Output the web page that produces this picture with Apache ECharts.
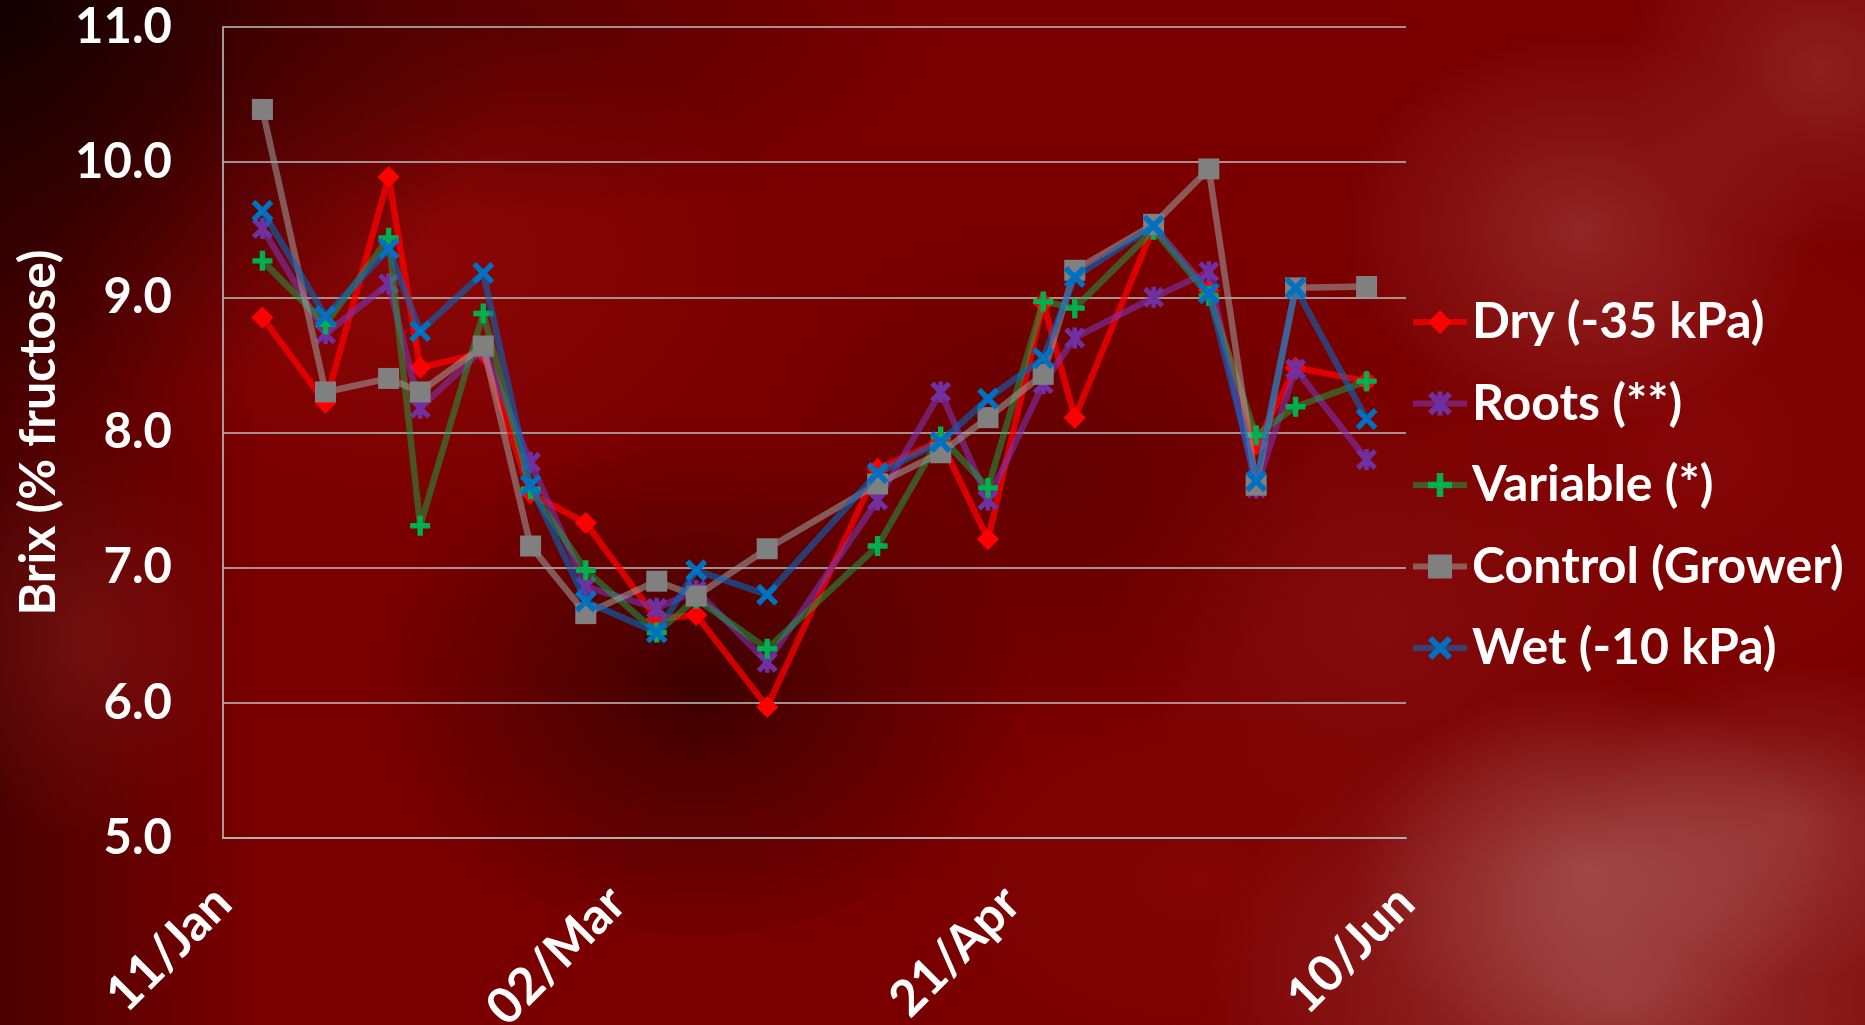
<!DOCTYPE html>
<html>
<head>
<meta charset="utf-8">
<title>Brix over the season</title>
<script src="https://cdn.jsdelivr.net/npm/echarts@6/dist/echarts.min.js"></script>
<style>
  html, body { margin: 0; padding: 0; width: 1865px; height: 1025px; overflow: hidden; }
  body {
    background-color: #7a0000;
    background-image:
      radial-gradient(ellipse 240px 190px at 1590px 870px, rgba(210,160,160,0.32), rgba(210,160,160,0) 100%),
      radial-gradient(ellipse 420px 300px at 1620px 1000px, rgba(205,150,150,0.34), rgba(205,150,150,0) 100%),
      radial-gradient(ellipse 200px 160px at 1800px 820px, rgba(200,140,140,0.28), rgba(200,140,140,0) 100%),
      radial-gradient(ellipse 240px 200px at 1580px 230px, rgba(195,120,120,0.30), rgba(195,120,120,0) 100%),
      radial-gradient(ellipse 200px 180px at 1820px 70px, rgba(195,120,120,0.26), rgba(195,120,120,0) 100%),
      radial-gradient(ellipse 260px 220px at 1380px 620px, rgba(170,60,60,0.20), rgba(170,60,60,0) 100%),
      radial-gradient(ellipse 160px 200px at 80px 640px, rgba(170,50,50,0.30), rgba(170,50,50,0) 100%),
      radial-gradient(ellipse 520px 420px at 0px 0px, rgba(15,0,0,0.95), rgba(15,0,0,0) 100%),
      radial-gradient(ellipse 330px 260px at 700px 690px, rgba(30,0,0,0.65), rgba(30,0,0,0) 100%),
      radial-gradient(ellipse 420px 200px at 520px 20px, rgba(40,0,0,0.40), rgba(40,0,0,0) 100%),
      radial-gradient(ellipse 300px 260px at 1050px 480px, rgba(40,0,0,0.30), rgba(40,0,0,0) 100%),
      radial-gradient(ellipse 360px 260px at 420px 260px, rgba(160,15,15,0.40), rgba(160,15,15,0) 100%),
      radial-gradient(ellipse 300px 200px at 1200px 880px, rgba(150,15,15,0.30), rgba(150,15,15,0) 100%),
      radial-gradient(ellipse 300px 300px at 1700px 450px, rgba(150,15,15,0.35), rgba(150,15,15,0) 100%),
      linear-gradient(to right, rgba(35,0,0,0.55) 0px, rgba(35,0,0,0) 260px);
  }
  #chart { width: 1865px; height: 1025px; }
</style>
</head>
<body>
<div id="chart"></div>
<script>
// Sampling dates (one season)
const seasonStart = '2019-01-11';
const sampleDates = [
  '2019-01-16', '2019-01-24', '2019-02-01', '2019-02-05', '2019-02-13',
  '2019-02-19', '2019-02-26', '2019-03-07', '2019-03-12', '2019-03-21',
  '2019-04-04', '2019-04-12', '2019-04-18', '2019-04-25', '2019-04-29',
  '2019-05-09', '2019-05-16', '2019-05-22', '2019-05-27', '2019-06-05'
];

// Brix (% fructose) per treatment
const dryValues      = [8.85, 8.22, 9.89, 8.48, 8.59, 7.55, 7.33, 6.62, 6.65, 5.97, 7.73, 7.94, 7.21, 8.96, 8.11, 9.52, 9.05, 7.91, 8.48, 8.38];
const rootsValues    = [9.51, 8.73, 9.10, 8.18, 8.62, 7.78, 6.86, 6.70, 6.83, 6.30, 7.50, 8.30, 7.50, 8.36, 8.70, 9.00, 9.19, 7.59, 8.47, 7.80];
const variableValues = [9.27, 8.80, 9.44, 7.31, 8.88, 7.58, 6.98, 6.52, 6.77, 6.40, 7.16, 7.97, 7.59, 8.97, 8.92, 9.50, 9.01, 7.98, 8.19, 8.38];
const controlValues  = [10.39, 8.30, 8.40, 8.30, 8.64, 7.16, 6.66, 6.90, 6.79, 7.14, 7.62, 7.85, 8.11, 8.43, 9.20, 9.54, 9.95, 7.61, 9.07, 9.08];
const wetValues      = [9.64, 8.86, 9.36, 8.75, 9.18, 7.61, 6.75, 6.52, 6.98, 6.80, 7.70, 7.93, 8.25, 8.55, 9.15, 9.53, 9.03, 7.64, 9.07, 8.10];

const seriesNames = ['Dry (-35 kPa)', 'Roots (**)', 'Variable (*)', 'Control (Grower)', 'Wet (-10 kPa)'];

// X axis runs in days from the season start; ticks every 50 days
const axisDays = { min: 0, max: 150, step: 50 };
const yTicks = { min: 5, max: 11, step: 1 };

const DAY = 86400000;
const startMs = Date.parse(seasonStart + 'T00:00:00Z');
const monthNames = ['Jan','Feb','Mar','Apr','May','Jun','Jul','Aug','Sep','Oct','Nov','Dec'];
function dayOffset(d) { return Math.round((Date.parse(d + 'T00:00:00Z') - startMs) / DAY); }
function dayLabel(n) {
  const dt = new Date(startMs + n * DAY);
  const dd = String(dt.getUTCDate()).padStart(2, '0');
  return dd + '/' + monthNames[dt.getUTCMonth()];
}
function pairs(values) { return values.map((v, i) => [dayOffset(sampleDates[i]), v]); }

// Marker shapes
const crossPath = 'path://M0,3.5 L3.5,0 L10,6.5 L16.5,0 L20,3.5 L13.5,10 L20,16.5 L16.5,20 L10,13.5 L3.5,20 L0,16.5 L6.5,10 Z';
const starPath  = 'path://M0,3.5 L3.5,0 L10,6.5 L16.5,0 L20,3.5 L13.5,10 L20,16.5 L16.5,20 L10,13.5 L3.5,20 L0,16.5 L6.5,10 Z M7.8,0 L12.2,0 L12.2,20 L7.8,20 Z';
const plusPath  = 'path://M7.3,0 H12.7 V7.3 H20 V12.7 H12.7 V20 H7.3 V12.7 H0 V7.3 H7.3 Z';

const FONT = 'Lato';
const styles = [
  { symbol: 'diamond',  size: 22, marker: '#ff0000', line: 'rgba(255,0,0,0.74)' },
  { symbol: starPath,   size: 21, marker: '#7030a0', line: 'rgba(125,50,175,0.6)' },
  { symbol: plusPath,   size: 20, marker: '#00b050', line: 'rgba(20,170,70,0.5)' },
  { symbol: 'rect',     size: 21, marker: '#808080', line: 'rgba(160,160,160,0.55)' },
  { symbol: crossPath,  size: 22, marker: '#0070c0', line: 'rgba(0,105,195,0.58)' }
];
const allValues = [dryValues, rootsValues, variableValues, controlValues, wetValues];

const series = allValues.map((vals, i) => ({
  name: seriesNames[i],
  type: 'line',
  data: pairs(vals),
  symbol: styles[i].symbol,
  symbolSize: styles[i].size,
  showAllSymbol: true,
  itemStyle: { color: styles[i].marker, opacity: 1 },
  lineStyle: { color: styles[i].line, width: 6.5 },
  emphasis: { disabled: true },
  z: 2 + i
}));

const chart = echarts.init(document.getElementById('chart'), null, { renderer: 'canvas' });
chart.setOption({
  backgroundColor: 'transparent',
  animation: false,
  textStyle: { fontFamily: FONT },
  grid: { left: 223, right: 459, top: 27, bottom: 187, containLabel: false, outerBoundsMode: 'none' },
  xAxis: {
    type: 'value',
    min: axisDays.min, max: axisDays.max, interval: axisDays.step,
    axisLine: { show: true, lineStyle: { color: 'rgba(180,180,180,0.85)', width: 2 } },
    axisTick: { show: false },
    splitLine: { show: false },
    axisLabel: {
      rotate: 45,
      margin: 57,
      color: '#ffffff',
      fontFamily: FONT,
      fontWeight: 'bold',
      fontSize: 50,
      formatter: v => dayLabel(v)
    }
  },
  yAxis: {
    type: 'value',
    min: yTicks.min, max: yTicks.max, interval: yTicks.step,
    name: 'Brix (% fructose)',
    nameLocation: 'middle',
    nameGap: 156,
    nameTextStyle: { color: '#ffffff', fontFamily: FONT, fontWeight: 'bold', fontSize: 50 },
    axisLine: { show: true, lineStyle: { color: 'rgba(180,180,180,0.85)', width: 2 } },
    axisTick: { show: false },
    splitLine: { show: true, lineStyle: { color: 'rgba(180,180,180,0.8)', width: 2 } },
    axisLabel: {
      margin: 51,
      color: '#ffffff',
      fontFamily: FONT,
      fontWeight: 'bold',
      fontSize: 49,
      formatter: v => v.toFixed(1)
    }
  },
  legend: {
    orient: 'vertical',
    left: 1405,
    top: 289.5,
    itemWidth: 54,
    itemHeight: 30,
    itemGap: 26.5,
    selectedMode: false,
    data: seriesNames,
    lineStyle: { width: 6 },
    textStyle: { color: '#ffffff', fontFamily: FONT, fontWeight: 'bold', fontSize: 50, lineHeight: 55 }
  },
  series: series
});
</script>
</body>
</html>
